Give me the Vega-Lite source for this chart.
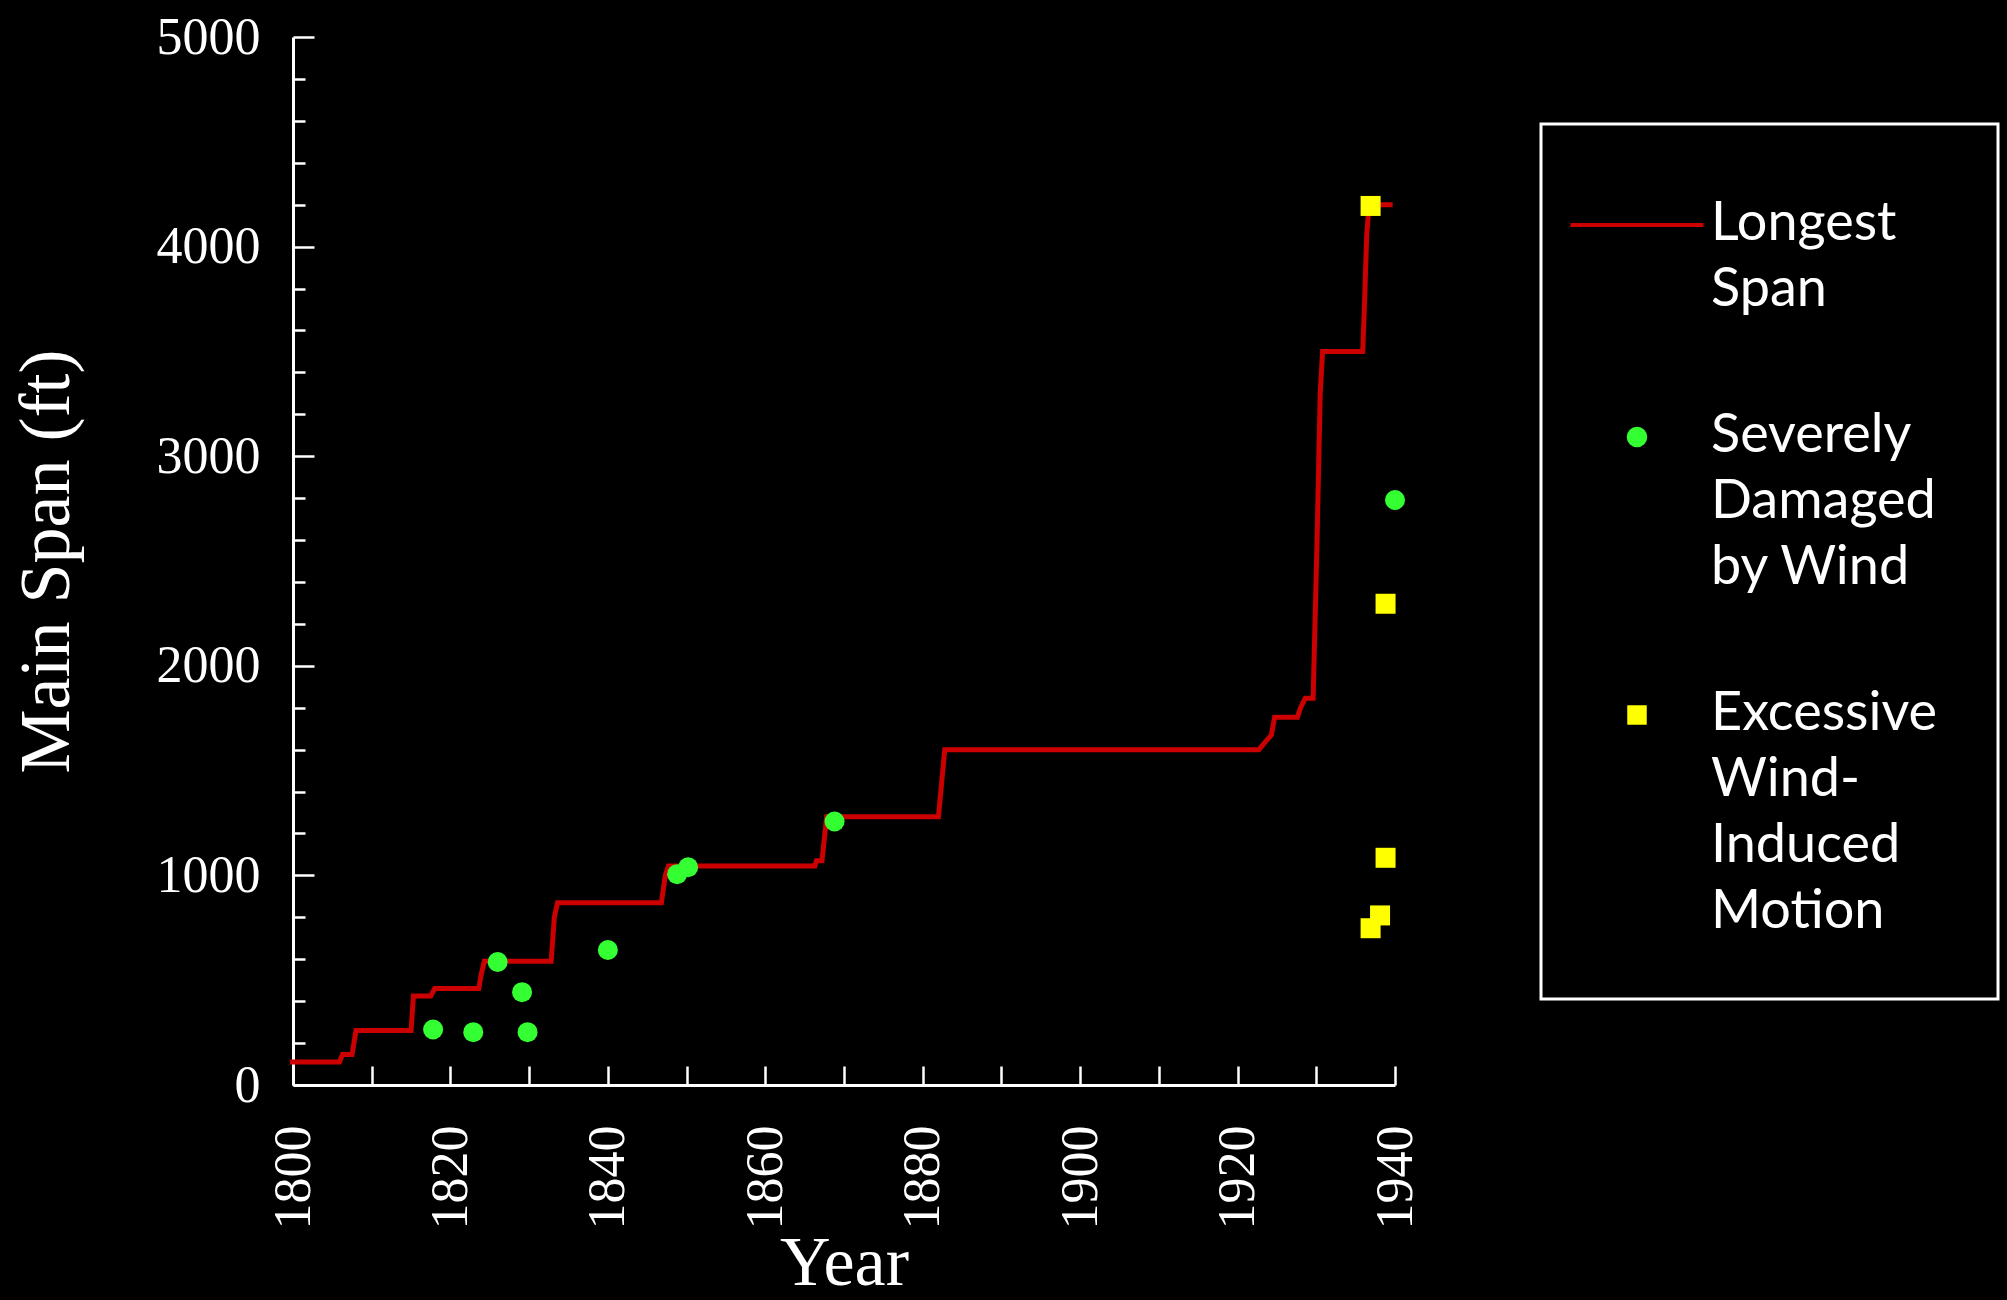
{
  "$schema": "https://vega.github.io/schema/vega-lite/v6.json",
  "width": 1102,
  "height": 1048,
  "autosize": {"type": "none"},
  "padding": {"left": 293, "top": 37, "right": 612, "bottom": 215},
  "background": "#000000",
  "config": {
    "view": {"stroke": null},
    "legend": {
      "strokeWidth": 3, "strokeColor": "#ffffff", "fillColor": "#000000",
      "padding": 60, "rowPadding": 92, "symbolOffset": 9,
      "labelFont": "Lato", "labelFontSize": 54, "labelColor": "#ffffff",
      "labelOffset": 47, "labelLimit": 600, "labelBaseline": "alphabetic",
      "titleFontSize": 10, "titlePadding": 4, "titleColor": "#000000"
    }
  },
  "data": {
    "values": [
      {"series": "Longest Span", "year": 1799.6, "span": 110},
      {"series": "Longest Span", "year": 1805.9, "span": 110},
      {"series": "Longest Span", "year": 1806.3, "span": 145},
      {"series": "Longest Span", "year": 1807.5, "span": 145},
      {"series": "Longest Span", "year": 1808.0, "span": 260},
      {"series": "Longest Span", "year": 1815.0, "span": 260},
      {"series": "Longest Span", "year": 1815.3, "span": 425},
      {"series": "Longest Span", "year": 1817.5, "span": 425},
      {"series": "Longest Span", "year": 1818.0, "span": 460},
      {"series": "Longest Span", "year": 1823.6, "span": 460},
      {"series": "Longest Span", "year": 1823.9, "span": 525},
      {"series": "Longest Span", "year": 1824.3, "span": 590},
      {"series": "Longest Span", "year": 1832.8, "span": 590},
      {"series": "Longest Span", "year": 1833.2, "span": 800},
      {"series": "Longest Span", "year": 1833.6, "span": 870},
      {"series": "Longest Span", "year": 1846.8, "span": 870},
      {"series": "Longest Span", "year": 1847.3, "span": 1000},
      {"series": "Longest Span", "year": 1847.7, "span": 1045},
      {"series": "Longest Span", "year": 1866.3, "span": 1045},
      {"series": "Longest Span", "year": 1866.5, "span": 1070},
      {"series": "Longest Span", "year": 1867.2, "span": 1070},
      {"series": "Longest Span", "year": 1867.8, "span": 1280},
      {"series": "Longest Span", "year": 1882.0, "span": 1280},
      {"series": "Longest Span", "year": 1882.3, "span": 1400},
      {"series": "Longest Span", "year": 1882.8, "span": 1600},
      {"series": "Longest Span", "year": 1922.7, "span": 1600},
      {"series": "Longest Span", "year": 1923.6, "span": 1640},
      {"series": "Longest Span", "year": 1924.3, "span": 1670},
      {"series": "Longest Span", "year": 1924.7, "span": 1755},
      {"series": "Longest Span", "year": 1927.6, "span": 1755},
      {"series": "Longest Span", "year": 1928.0, "span": 1800},
      {"series": "Longest Span", "year": 1928.6, "span": 1845},
      {"series": "Longest Span", "year": 1929.6, "span": 1845},
      {"series": "Longest Span", "year": 1930.1, "span": 2600},
      {"series": "Longest Span", "year": 1930.5, "span": 3300},
      {"series": "Longest Span", "year": 1930.8, "span": 3500},
      {"series": "Longest Span", "year": 1935.9, "span": 3500},
      {"series": "Longest Span", "year": 1936.1, "span": 3700},
      {"series": "Longest Span", "year": 1936.4, "span": 4050},
      {"series": "Longest Span", "year": 1936.7, "span": 4200},
      {"series": "Longest Span", "year": 1939.7, "span": 4200},
      {"series": "Severely Damaged by Wind", "year": 1817.8, "span": 265},
      {"series": "Severely Damaged by Wind", "year": 1822.9, "span": 252},
      {"series": "Severely Damaged by Wind", "year": 1826.0, "span": 587},
      {"series": "Severely Damaged by Wind", "year": 1829.1, "span": 443},
      {"series": "Severely Damaged by Wind", "year": 1829.8, "span": 252},
      {"series": "Severely Damaged by Wind", "year": 1840.0, "span": 644},
      {"series": "Severely Damaged by Wind", "year": 1848.8, "span": 1006},
      {"series": "Severely Damaged by Wind", "year": 1850.2, "span": 1039},
      {"series": "Severely Damaged by Wind", "year": 1868.8, "span": 1257},
      {"series": "Severely Damaged by Wind", "year": 1940.0, "span": 2791},
      {"series": "Excessive Wind-Induced Motion", "year": 1936.9, "span": 4194},
      {"series": "Excessive Wind-Induced Motion", "year": 1938.8, "span": 2296},
      {"series": "Excessive Wind-Induced Motion", "year": 1938.8, "span": 1084},
      {"series": "Excessive Wind-Induced Motion", "year": 1938.1, "span": 809},
      {"series": "Excessive Wind-Induced Motion", "year": 1936.9, "span": 748}
    ]
  },
  "encoding": {
    "x": {
      "field": "year", "type": "quantitative", "title": "Year",
      "scale": {"domain": [1800, 1940], "nice": false, "zero": false},
      "axis": {
        "values": [1800, 1810, 1820, 1830, 1840, 1850, 1860, 1870, 1880, 1890, 1900, 1910, 1920, 1930, 1940],
        "format": "d",
        "labelExpr": "datum.value % 20 === 0 ? datum.label : ''",
        "labelAngle": -90, "labelAlign": "right", "labelBaseline": "middle",
        "labelFlush": false, "labelOverlap": false,
        "labelFont": "Liberation Serif", "labelFontSize": 52, "labelColor": "#ffffff",
        "labelPadding": 59,
        "tickSize": -19, "tickColor": "#ffffff", "tickWidth": 2.5,
        "domainColor": "#ffffff", "domainWidth": 3, "grid": false,
        "titleFont": "Liberation Serif", "titleFontSize": 70, "titleFontWeight": "normal",
        "titleColor": "#ffffff", "titlePadding": 0
      }
    },
    "y": {
      "field": "span", "type": "quantitative", "title": "Main Span (ft)",
      "scale": {"domain": [0, 5000], "nice": false},
      "axis": {
        "values": [0, 200, 400, 600, 800, 1000, 1200, 1400, 1600, 1800, 2000, 2200, 2400, 2600, 2800, 3000, 3200, 3400, 3600, 3800, 4000, 4200, 4400, 4600, 4800, 5000],
        "format": "d",
        "labelExpr": "datum.value % 1000 === 0 ? datum.label : ''",
        "labelFlush": false, "labelOverlap": false,
        "labelFont": "Liberation Serif", "labelFontSize": 52, "labelColor": "#ffffff",
        "labelPadding": 54,
        "tickSize": {"condition": {"test": "datum.value % 1000 === 0", "value": -21}, "value": -12},
        "tickColor": "#ffffff", "tickWidth": 2.5,
        "domainColor": "#ffffff", "domainWidth": 3, "grid": false,
        "titleFont": "Liberation Serif", "titleFontSize": 72, "titleFontWeight": "normal",
        "titleColor": "#ffffff", "titlePadding": 73
      }
    },
    "color": {
      "field": "series", "type": "nominal",
      "scale": {
        "domain": ["Longest Span", "Severely Damaged by Wind", "Excessive Wind-Induced Motion"],
        "range": ["#cc0000", "#33ff33", "#ffff00"]
      },
      "legend": {
        "title": " ", "orient": "none", "legendX": 1248, "legendY": 87,
        "labelExpr": "datum.value === 'Longest Span' ? ['Longest', 'Span'] : datum.value === 'Severely Damaged by Wind' ? ['Severely', 'Damaged', 'by Wind'] : ['Excessive', 'Wind-', 'Induced', 'Motion']",
        "encode": {
          "symbols": {"update": {
            "size": {"signal": "datum.value === 'Longest Span' ? 17700 : datum.value === 'Severely Damaged by Wind' ? 420 : 380"},
            "stroke": {"signal": "datum.value === 'Longest Span' ? '#ee2211' : 'transparent'"},
            "strokeWidth": {"signal": "datum.value === 'Longest Span' ? 4 : 0"}
          }},
          "labels": {"update": {"lineHeight": {"value": 66}, "dy": {"value": 15}}}
        }
      }
    }
  },
  "layer": [
    {
      "transform": [{"filter": "datum.series === 'Longest Span'"}],
      "mark": {"type": "line", "strokeWidth": 5, "clip": false}
    },
    {
      "transform": [{"filter": "datum.series !== 'Longest Span'"}],
      "mark": {"type": "point", "filled": true, "opacity": 1, "size": 400},
      "encoding": {
        "shape": {
          "field": "series", "type": "nominal",
          "scale": {
            "domain": ["Longest Span", "Severely Damaged by Wind", "Excessive Wind-Induced Motion"],
            "range": ["stroke", "circle", "square"]
          },
          "legend": {
            "title": " ", "orient": "none", "legendX": 1248, "legendY": 87,
            "labelExpr": "datum.value === 'Longest Span' ? ['Longest', 'Span'] : datum.value === 'Severely Damaged by Wind' ? ['Severely', 'Damaged', 'by Wind'] : ['Excessive', 'Wind-', 'Induced', 'Motion']",
            "encode": {
              "symbols": {"update": {
                "size": {"signal": "datum.value === 'Longest Span' ? 17700 : datum.value === 'Severely Damaged by Wind' ? 420 : 380"},
                "stroke": {"signal": "datum.value === 'Longest Span' ? '#ee2211' : 'transparent'"},
                "strokeWidth": {"signal": "datum.value === 'Longest Span' ? 4 : 0"}
              }},
              "labels": {"update": {"lineHeight": {"value": 66}, "dy": {"value": 15}}}
            }
          }
        }
      }
    }
  ]
}
